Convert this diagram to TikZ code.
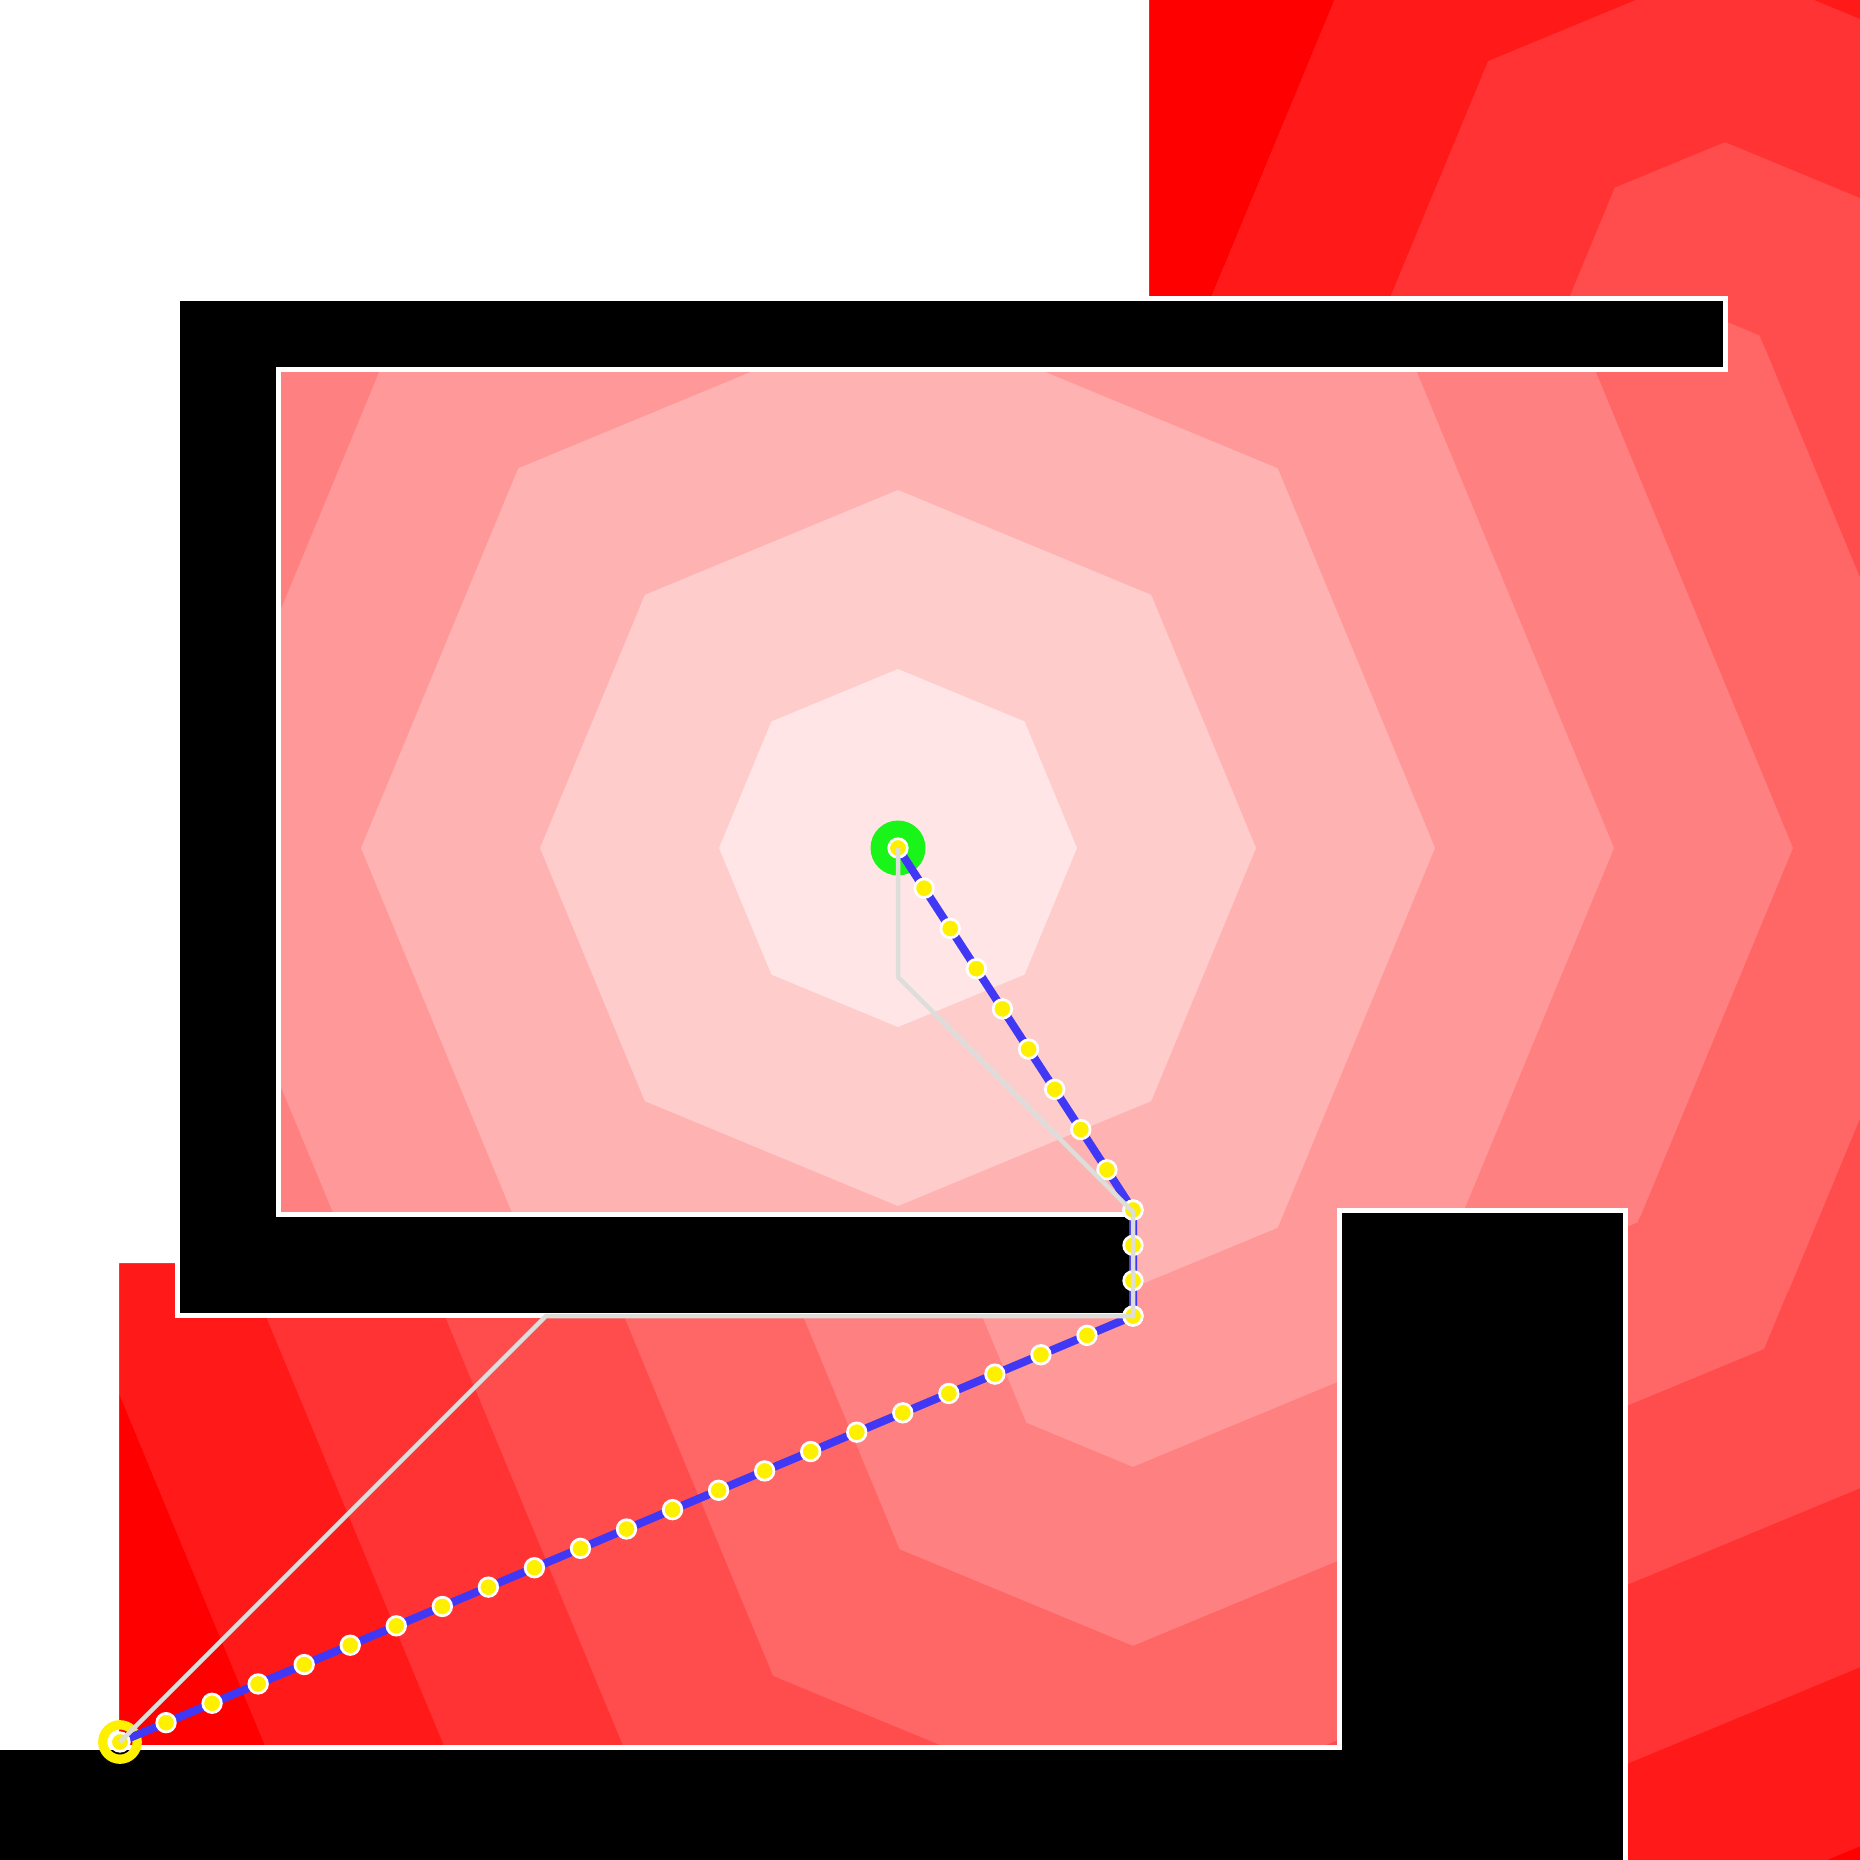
\documentclass[tikz,border=0pt]{standalone}
\usepackage{xcolor}
\usepackage{tikz}
\usetikzlibrary{calc}

\definecolor{xanhduong}{RGB}{64,56,245}
\definecolor{xanhla}{RGB}{25,245,25}
\definecolor{vang}{RGB}{255,240,0}
\definecolor{xam}{RGB}{221,221,218}

% truong mau bat giac: #1 = tam, #2 = khoang cach da co tai tam
\newcommand{\vebatgiac}[2]{%
    \fill[red] (0,0) rectangle (1860,1860);
    \foreach \k in {9,...,1} {
        \pgfmathsetmacro{\rr}{179*\k-#2}
        \ifdim\rr pt>0pt
            \fill[red!\k0!white] (#1) +(0:\rr) -- +(45:\rr) -- +(90:\rr) -- +(135:\rr)
                -- +(180:\rr) -- +(225:\rr) -- +(270:\rr) -- +(315:\rr) -- cycle;
        \fi
    }%
}

% cung truong mau, nhung ve tung vanh (moi diem chi to mot lan)
\newcommand{\vevanhdai}[2]{%
    \foreach \j in {0,...,9} {
        \pgfmathsetmacro{\ra}{179*\j-#2}
        \pgfmathsetmacro{\rb}{\j==9 ? 5000 : 179*(\j+1)-#2}
        \pgfmathtruncatemacro{\pc}{10*(\j+1)}
        \ifdim\rb pt>0pt
            \ifdim\ra pt>0pt
                \fill[red!\pc!white, even odd rule]
                    (#1) +(0:\rb) -- +(45:\rb) -- +(90:\rb) -- +(135:\rb)
                    -- +(180:\rb) -- +(225:\rb) -- +(270:\rb) -- +(315:\rb) -- cycle
                    (#1) +(0:\ra) -- +(45:\ra) -- +(90:\ra) -- +(135:\ra)
                    -- +(180:\ra) -- +(225:\ra) -- +(270:\ra) -- +(315:\ra) -- cycle;
            \else
                \fill[red!\pc!white]
                    (#1) +(0:\rb) -- +(45:\rb) -- +(90:\rb) -- +(135:\rb)
                    -- +(180:\rb) -- +(225:\rb) -- +(270:\rb) -- +(315:\rb) -- cycle;
            \fi
        \fi
    }%
}

\begin{document}
\begin{tikzpicture}[x=0.01cm, y=-0.01cm,
    tuong/.style={fill=black, draw=white, line width=0.05cm},
    duongxanh/.style={draw=xanhduong, line width=0.08cm, line join=round},
    duongxam/.style={draw=xam, line width=0.045cm},
    cham/.style={fill=vang, draw=white, line width=0.027cm}]

    \useasboundingbox (0,0) rectangle (1860,1860);

    % =================================================================
    % 1. CAC DIEM CHINH
    % =================================================================
    \coordinate (S) at (898,848);
    \coordinate (A) at (1133,1210);
    \coordinate (B) at (1133,1316);
    \coordinate (E) at (120,1742);
    \coordinate (Q1) at (1725,370);
    \coordinate (Q2) at (1725,298);
    \coordinate (C3) at (1625.5,1210.5);
    \coordinate (G1) at (898,977);
    \coordinate (G2) at (1133,1212);
    \coordinate (G3) at (546,1316);

    % =================================================================
    % 2. TRUONG KHOANG CACH (cac vong bat giac)
    % =================================================================
    \begin{scope}
        \clip (0,0) rectangle (1860,1860);
        \vebatgiac{S}{0}
    \end{scope}
    \begin{scope}
        \clip (0,0) rectangle (1725,298);
        \vevanhdai{Q2}{1097}
    \end{scope}
    \begin{scope}
        \clip (Q1) -- (1860,292) -- (1860,0) -- (1725,0) -- cycle;
        \vevanhdai{Q1}{1025}
    \end{scope}
    \begin{scope}
        \clip (1133,1230) -- (B) -- (1339,1730) -- (1339,1860) -- (0,1860) -- (0,1230) -- cycle;
        \vevanhdai{B}{565}
    \end{scope}
    \begin{scope}
        \clip (C3) -- (1860,1327) -- (1860,1860) -- (1625.5,1860) -- cycle;
        \vevanhdai{C3}{878}
    \end{scope}

    % vung chua duyet
    \fill[white] (-5,-5) -- (1149,-5) -- (1149,298) -- (177,298) -- (177,1263)
        -- (119,1263) -- (119,1747) -- (-5,1747) -- cycle;

    % =================================================================
    % 3. TUONG
    % =================================================================
    \draw[tuong] (177,298.5) -- (1725,298.5) -- (1725,369.5) -- (278,369.5) -- (278,1214.5)
        -- (1132,1214.5) -- (1132,1315.5) -- (177,1315.5) -- cycle;
    \draw[tuong] (-10,1747.5) -- (1339,1747.5) -- (1339,1210.5) -- (1625.5,1210.5)
        -- (1625.5,1870) -- (-10,1870) -- cycle;

    % =================================================================
    % 4. DIEM DAU, DIEM CUOI VA DUONG DI
    % =================================================================
    \fill[xanhla] (S) circle (27.5);
    \draw[vang, line width=0.093cm] (E) circle (17.2);

    \draw[duongxanh] (S) -- (A) -- (B) -- (E);
    \foreach \i in {0,...,9} \draw[cham] ($(S)!{\i/9}!(A)$) circle (9.3);
    \foreach \i in {0,...,3} \draw[cham] ($(A)!{\i/3}!(B)$) circle (9.3);
    \foreach \i in {0,...,22} \draw[cham] ($(B)!{\i/22}!(E)$) circle (9.3);

    \draw[duongxam] (S) -- (G1) -- (G2) -- (B) -- (G3) -- (E);

\end{tikzpicture}
\end{document}
